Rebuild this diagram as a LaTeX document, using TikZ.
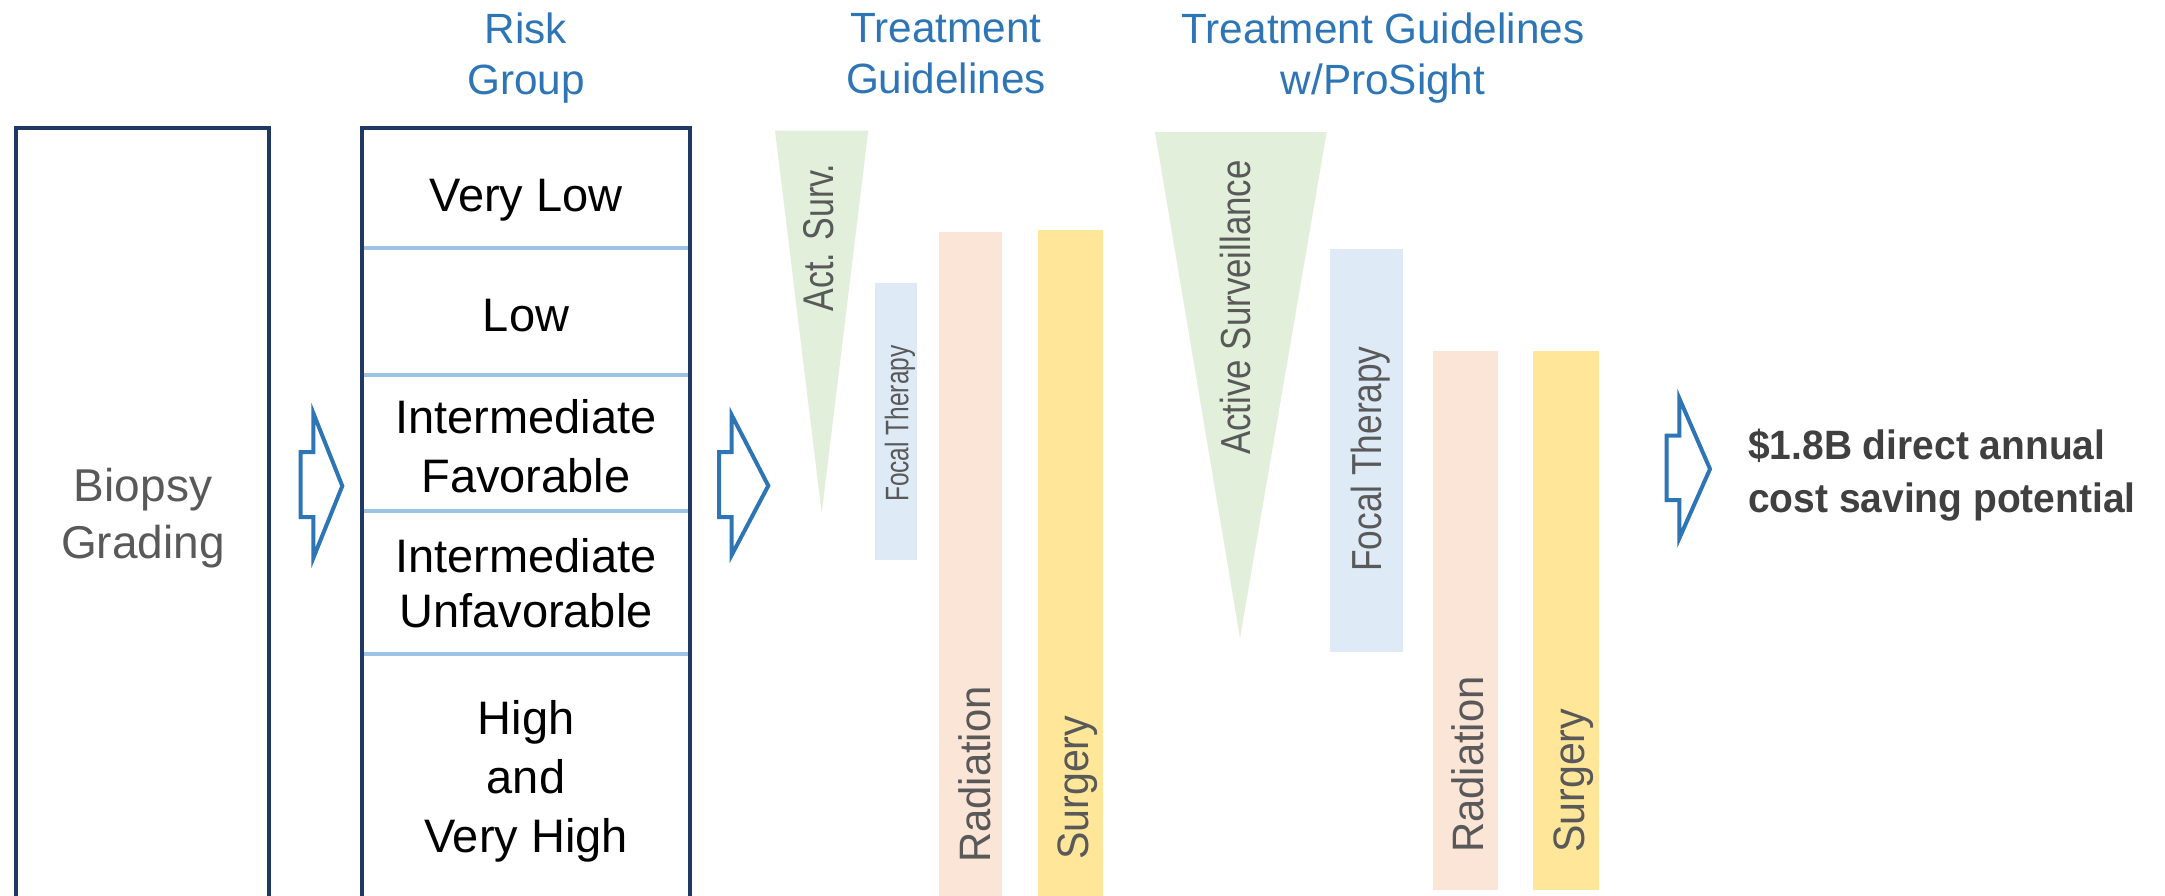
\documentclass[tikz,border=0pt]{standalone}
\usepackage{fontspec}
\setmainfont{Liberation Sans}

\definecolor{headblue}{RGB}{46,117,182}
\definecolor{navy}{RGB}{31,56,100}
\definecolor{divblue}{RGB}{157,195,230}
\definecolor{actgreen}{RGB}{226,239,218}
\definecolor{focalblue}{RGB}{222,235,247}
\definecolor{radpeach}{RGB}{251,229,214}
\definecolor{surgyellow}{RGB}{255,230,153}
\definecolor{bargray}{RGB}{89,89,89}
\definecolor{savegray}{RGB}{64,64,64}

\tikzset{
  heading/.style={text=headblue, font=\fontsize{42.3}{51}\selectfont, align=center, inner sep=0pt},
  riskitem/.style={text=black, font=\fontsize{47}{59}\selectfont, align=center, inner sep=0pt},
  framebox/.style={draw=navy, line width=3.3pt},
  divider/.style={draw=divblue, line width=3.5pt},
  blockarrow/.style={draw=headblue, line width=4pt, fill=white, line join=miter},
  bartext/.style={text=bargray, inner sep=0pt, rotate=90, anchor=base west},
}

\begin{document}
\begin{tikzpicture}[x=1pt,y=-1pt]
\useasboundingbox (0,0) rectangle (2165,895);
\fill[white] (0,0) rectangle (2165,895);
\clip (0,0) rectangle (2165,895);

% column headings
\node[heading] (hrisk)  at (526,57.9)  {Risk\\Group};
\node[heading] (htreat) at (946,53.5)  {Treatment\\Guidelines};
\node[heading] (hpro)   at (1383,57.9) {Treatment Guidelines\\w/ProSight};

% biopsy grading column
\draw[framebox] (16,128) rectangle (269,910);
\node[text=bargray, font=\fontsize{46}{57}\selectfont, align=center, inner sep=0pt]
  (biopsy) at (143,518) {Biopsy\\Grading};

% risk group column with its cells
\draw[divider] (362,248) -- (690,248);
\draw[divider] (362,375) -- (690,375);
\draw[divider] (362,511) -- (690,511);
\draw[divider] (362,654) -- (690,654);
\draw[framebox] (362,128) rectangle (690,910);
\node[riskitem, anchor=base] (vlow) at (526,211.5) {Very Low};
\node[riskitem, anchor=base] (low)  at (526,331.6) {Low};
\node[riskitem] (ifav) at (526,446.6) {Intermediate\\Favorable};
\node[riskitem, font=\fontsize{47}{55}\selectfont] (iunf) at (526,583) {Intermediate\\Unfavorable};
\node[riskitem] (high) at (526,781.4) {High\\and\\Very High};

% block arrows between the columns
\draw[blockarrow] (300.7,452) -- (313.3,452) -- (313.3,413) -- (342.3,486)
  -- (313.3,558) -- (313.3,517) -- (300.7,517) -- cycle;
\draw[blockarrow] (719,452) -- (731.7,452) -- (731.7,415) -- (768.3,485.7)
  -- (731.7,555) -- (731.7,517) -- (719,517) -- cycle;
\draw[blockarrow] (1666.7,435.7) -- (1679.3,435.7) -- (1679.3,398.3) -- (1710,469)
  -- (1679.3,538.3) -- (1679.3,500) -- (1666.7,500) -- cycle;

% current treatment guidelines
\fill[actgreen] (775,130.5) -- (868.3,130.5) -- (821.7,513) -- cycle;
\fill[focalblue] (875,283) rectangle (917,560);
\fill[radpeach] (939,231.5) rectangle (1002,900);
\fill[surgyellow] (1038,229.5) rectangle (1103,900);
\node[bartext, font=\fontsize{43}{43}\selectfont] (actsurv) at (833.3,311.7) {\scalebox{0.79}[1]{Act. Surv.}};
\node[bartext, font=\fontsize{32.6}{33}\selectfont] (focal1) at (908.3,502) {\scalebox{0.75}[1]{Focal Therapy}};
\node[bartext, font=\fontsize{44}{44}\selectfont] (rad1) at (990,863) {\scalebox{0.95}[1]{Radiation}};
\node[bartext, font=\fontsize{44}{44}\selectfont] (surg1) at (1088,860) {\scalebox{0.935}[1]{Surgery}};

% treatment guidelines with ProSight
\fill[actgreen] (1155,132) -- (1326.7,132) -- (1240,638) -- cycle;
\fill[focalblue] (1330,248.5) rectangle (1403,652);
\fill[radpeach] (1433,351) rectangle (1498,890);
\fill[surgyellow] (1533,351) rectangle (1599,890);
\node[bartext, font=\fontsize{42}{42}\selectfont] (actsurv2) at (1250,455) {\scalebox{0.83}[1]{Active Surveillance}};
\node[bartext, font=\fontsize{42}{42}\selectfont] (focal2) at (1381.7,572) {\scalebox{0.84}[1]{Focal Therapy}};
\node[bartext, font=\fontsize{44}{44}\selectfont] (rad2) at (1483,853) {\scalebox{0.95}[1]{Radiation}};
\node[bartext, font=\fontsize{44}{44}\selectfont] (surg2) at (1584,853) {\scalebox{0.935}[1]{Surgery}};

% outcome
\node[text=savegray, font=\fontsize{41}{53}\selectfont\bfseries, inner sep=0pt, anchor=base west]
  (saving) at (1748,459) {\scalebox{0.95}[1]{\begin{tabular}[t]{@{}l@{}}\$1.8B direct annual\\cost saving potential\end{tabular}}};
\end{tikzpicture}
\end{document}
